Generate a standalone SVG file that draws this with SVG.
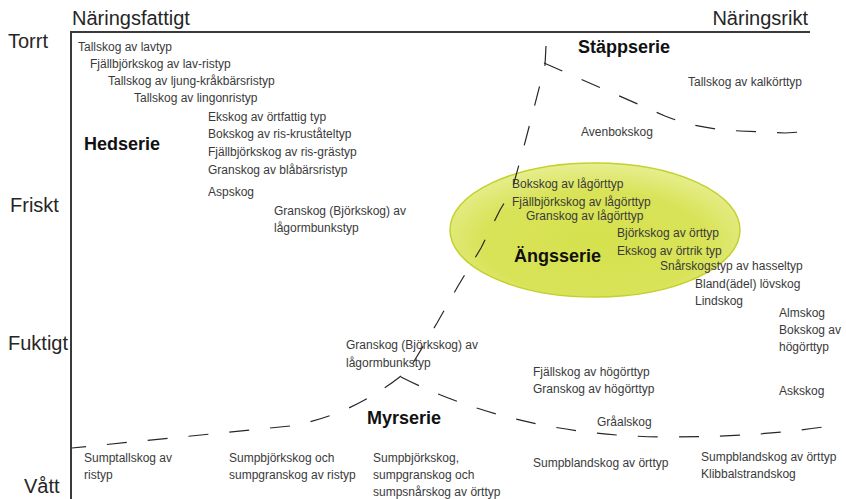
<svg xmlns="http://www.w3.org/2000/svg" width="846" height="499" viewBox="0 0 846 499">
<defs>
<radialGradient id="eg" cx="0.5" cy="0.6" r="0.65">
<stop offset="0" stop-color="#d6e14e"/>
<stop offset="0.6" stop-color="#d9e358"/>
<stop offset="1" stop-color="#eaf19e"/>
</radialGradient>
</defs>
<style>
.ax{font-family:"Liberation Sans",Arial,sans-serif;font-size:20px;fill:#262626}
.t{font-family:"Liberation Sans",Arial,sans-serif;font-size:12px;fill:#3a3a3a}
.s{font-family:"Liberation Sans",Arial,sans-serif;font-size:18px;font-weight:bold;fill:#111}
.d{fill:none;stroke:#262626;stroke-width:1.2;stroke-dasharray:20 21}
.axis{stroke:#3a3a3a;stroke-width:2;fill:none}
</style>
<rect width="846" height="499" fill="#fff"/>

<g id="axes">
<path class="axis" d="M71,499 L71,32 L810,32"/>
<text class="ax" x="72" y="25">Näringsfattigt</text>
<text class="ax" x="808" y="25" text-anchor="end">Näringsrikt</text>
<text class="ax" x="8" y="48">Torrt</text>
<text class="ax" x="10" y="212">Friskt</text>
<text class="ax" x="8" y="350">Fuktigt</text>
<text class="ax" x="24" y="493">Vått</text>
</g>

<g id="angsserie-area">
<ellipse cx="595" cy="230" rx="145" ry="67" fill="url(#eg)" stroke="#c3d12c" stroke-width="1.5"/>
</g>

<g id="connectors">
<path class="d" d="M546,46 L545,65 L534,108 L523,150 L512,190 L500,210 L481,248 L458,286 L437,323 L413,363 L401,376"/>
<path class="d" d="M544,63 L665,116 C685,124 705,129 740,131 L785,133 L816,131"/>
<path class="d" d="M401,376 Q350,416 290,426 L72,448"/>
<path class="d" d="M401,377 C470,412 560,437 670,437 C740,437 790,432 830,426"/>
</g>

<g id="hedserie">
<text class="s" x="84" y="150">Hedserie</text>
<text class="t" x="78" y="51">Tallskog av lavtyp</text>
<text class="t" x="90" y="68">Fjällbjörkskog av lav-ristyp</text>
<text class="t" x="108" y="85">Tallskog av ljung-kråkbärsristyp</text>
<text class="t" x="134" y="102">Tallskog av lingonristyp</text>
<text class="t" x="208" y="121">Ekskog av örtfattig typ</text>
<text class="t" x="208" y="138">Bokskog av ris-kruståteltyp</text>
<text class="t" x="208" y="156">Fjällbjörkskog av ris-grästyp</text>
<text class="t" x="208" y="174">Granskog av blåbärsristyp</text>
<text class="t" x="208" y="196">Aspskog</text>
<text class="t" x="274" y="215">Granskog (Björkskog) av</text>
<text class="t" x="274" y="232">lågormbunkstyp</text>
</g>

<g id="stappserie">
<text class="s" x="578" y="53">Stäppserie</text>
<text class="t" x="688" y="86">Tallskog av kalkörttyp</text>
<text class="t" x="581" y="136">Avenbokskog</text>
</g>

<g id="angsserie">
<text class="s" x="514" y="262">Ängsserie</text>
<text class="t" x="512" y="188">Bokskog av lågörttyp</text>
<text class="t" x="512" y="206">Fjällbjörkskog av lågörttyp</text>
<text class="t" x="526" y="220">Granskog av lågörttyp</text>
<text class="t" x="617" y="237">Björkskog av örttyp</text>
<text class="t" x="617" y="255">Ekskog av örtrik typ</text>
<text class="t" x="660" y="270">Snårskogstyp av hasseltyp</text>
<text class="t" x="695" y="288">Bland(ädel) lövskog</text>
<text class="t" x="695" y="305">Lindskog</text>
<text class="t" x="779" y="317">Almskog</text>
<text class="t" x="779" y="334">Bokskog av</text>
<text class="t" x="779" y="351">högörttyp</text>
<text class="t" x="779" y="395">Askskog</text>
<text class="t" x="346" y="349">Granskog (Björkskog) av</text>
<text class="t" x="346" y="367">lågormbunkstyp</text>
<text class="t" x="533" y="376">Fjällskog av högörttyp</text>
<text class="t" x="533" y="393">Granskog av högörttyp</text>
<text class="t" x="597" y="426">Gråalskog</text>
</g>

<g id="myrserie">
<text class="s" x="367" y="424">Myrserie</text>
<text class="t" x="84" y="462">Sumptallskog av</text>
<text class="t" x="84" y="479">ristyp</text>
<text class="t" x="229" y="462">Sumpbjörkskog och</text>
<text class="t" x="229" y="479">sumpgranskog av ristyp</text>
<text class="t" x="373" y="462">Sumpbjörkskog,</text>
<text class="t" x="373" y="479">sumpgranskog och</text>
<text class="t" x="373" y="496">sumpsnårskog av örttyp</text>
<text class="t" x="533" y="467">Sumpblandskog av örttyp</text>
<text class="t" x="701" y="461">Sumpblandskog av örttyp</text>
<text class="t" x="701" y="478">Klibbalstrandskog</text>
</g>
</svg>
